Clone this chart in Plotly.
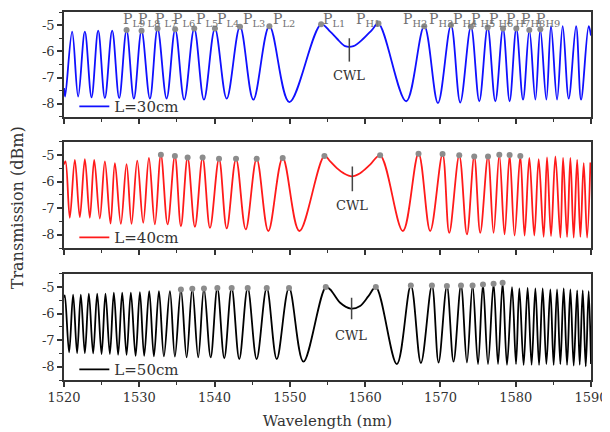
import plotly.graph_objects as go

# ---------------- data (extrema) ----------------
wl_30 = [1520.00, 1520.15, 1521.08, 1521.88, 1522.77, 1523.66, 1524.54, 1525.43, 1526.40, 1527.33,
         1528.31, 1529.28, 1530.30, 1531.41, 1532.43, 1533.63, 1534.77, 1535.97, 1537.30, 1538.59,
         1540.05, 1541.61, 1543.38, 1545.15, 1547.28, 1549.93, 1554.15, 1555.36, 1556.24, 1557.34,
         1558.45, 1559.78, 1560.89, 1561.77, 1565.45, 1567.85, 1569.67, 1571.40, 1572.63, 1574.05,
         1575.16, 1576.27, 1577.29, 1578.31, 1579.19, 1580.08, 1580.97, 1581.81, 1582.61, 1583.27,
         1584.07, 1584.69, 1585.49, 1586.24, 1587.04, 1588.02, 1588.68, 1589.69, 1590.00]
tr_30 = [-7.40, -7.72, -5.25, -7.72, -5.25, -7.75, -5.21, -7.78, -5.21, -7.78,
         -5.19, -7.80, -5.21, -7.80, -5.13, -7.80, -5.16, -7.84, -5.13, -7.84,
         -5.13, -7.80, -5.06, -7.84, -5.04, -7.93, -4.97, -5.25, -5.51, -5.80,
         -5.80, -5.51, -5.19, -4.94, -7.90, -5.04, -7.97, -5.00, -7.95, -5.06,
         -7.90, -5.09, -7.90, -5.13, -7.90, -5.13, -7.84, -5.19, -7.84, -5.16,
         -7.84, -5.04, -7.84, -5.04, -7.80, -5.04, -7.84, -5.04, -5.40]

wl_40 = [1520.00, 1520.20, 1520.77, 1521.44, 1522.10, 1522.77, 1523.43, 1524.01, 1524.76, 1525.43,
         1526.18, 1526.76, 1527.55, 1528.31, 1528.97, 1529.73, 1530.52, 1531.28, 1532.07, 1532.87,
         1533.76, 1534.73, 1535.53, 1536.42, 1537.39, 1538.41, 1539.39, 1540.59, 1541.61, 1542.85,
         1544.14, 1545.59, 1547.14, 1549.05, 1551.26, 1554.59, 1555.36, 1556.24, 1557.13, 1558.23,
         1559.33, 1560.66, 1561.99, 1565.01, 1567.09, 1568.64, 1570.28, 1571.17, 1572.50, 1573.52,
         1574.49, 1575.29, 1576.32, 1577.06, 1577.82, 1578.52, 1579.19, 1579.85, 1580.61, 1581.18,
         1581.81, 1582.47, 1583.05, 1583.71, 1584.16, 1584.69, 1585.27, 1585.93, 1586.29, 1586.82,
         1587.26, 1587.70, 1588.16, 1588.59, 1589.03, 1589.48, 1589.92]
tr_40 = [-5.35, -5.24, -7.36, -5.18, -7.34, -5.15, -7.36, -5.18, -7.39, -5.24,
         -7.58, -5.30, -7.59, -5.34, -7.59, -5.21, -7.55, -5.11, -7.61, -4.99,
         -7.61, -5.03, -7.68, -5.09, -7.70, -5.09, -7.74, -5.14, -7.76, -5.14,
         -7.80, -5.14, -7.86, -5.11, -7.86, -5.03, -5.24, -5.49, -5.68, -5.80,
         -5.68, -5.36, -5.01, -7.86, -4.95, -7.86, -4.96, -7.93, -5.01, -7.99,
         -5.05, -7.93, -5.05, -7.93, -4.99, -7.99, -5.00, -8.03, -5.03, -8.03,
         -5.11, -8.03, -5.15, -8.08, -5.09, -8.05, -5.05, -8.11, -5.11, -8.08,
         -5.11, -8.11, -5.18, -8.08, -5.30, -8.11, -5.28]

wl_50 = [1520.00, 1520.11, 1520.68, 1521.21, 1521.74, 1522.23, 1522.77, 1523.30, 1523.87, 1524.41,
         1524.99, 1525.51, 1526.09, 1526.62, 1527.19, 1527.73, 1528.31, 1528.88, 1529.51, 1530.08,
         1530.65, 1531.32, 1531.94, 1532.61, 1533.27, 1534.07, 1534.73, 1535.53, 1536.29, 1537.04,
         1537.83, 1538.59, 1539.48, 1540.37, 1541.29, 1542.27, 1543.28, 1544.40, 1545.59, 1546.93,
         1548.26, 1549.89, 1551.80, 1554.77, 1555.36, 1556.68, 1558.10, 1559.33, 1560.44, 1561.42,
         1564.21, 1566.07, 1567.41, 1568.87, 1569.75, 1570.86, 1571.74, 1572.73, 1573.52, 1574.27,
         1574.99, 1575.65, 1576.32, 1577.06, 1577.65, 1578.26, 1578.84, 1579.51, 1580.04, 1580.48,
         1581.05, 1581.58, 1582.11, 1582.61, 1583.10, 1583.58, 1584.07, 1584.60, 1585.04, 1585.49,
         1585.93, 1586.37, 1586.82, 1587.26, 1587.70, 1588.16, 1588.50, 1588.90, 1589.30, 1589.69,
         1590.00]
tr_50 = [-5.40, -5.31, -7.46, -5.28, -7.49, -5.28, -7.49, -5.25, -7.50, -5.25,
         -7.52, -5.25, -7.52, -5.21, -7.55, -5.21, -7.55, -5.21, -7.59, -5.19,
         -7.59, -5.15, -7.61, -5.15, -7.61, -5.15, -7.62, -5.09, -7.65, -5.06,
         -7.65, -5.05, -7.65, -5.03, -7.68, -5.03, -7.71, -5.03, -7.71, -5.03,
         -7.71, -5.03, -7.81, -5.00, -5.09, -5.59, -5.81, -5.71, -5.34, -5.00,
         -7.90, -4.94, -7.86, -4.94, -7.84, -4.96, -7.81, -4.94, -7.84, -4.94,
         -7.90, -4.90, -7.90, -4.87, -7.90, -4.84, -7.93, -5.00, -7.90, -5.05,
         -7.93, -5.03, -7.93, -5.05, -7.93, -5.05, -7.90, -5.09, -7.93, -5.09,
         -7.90, -5.05, -7.93, -5.09, -7.96, -5.12, -7.93, -5.12, -7.99, -5.15,
         -7.90]

# labelled / marked peaks (wavelengths)
marked_30 = [1528.31, 1530.30, 1532.43, 1534.77, 1537.30, 1540.05, 1543.38, 1547.28, 1554.15,
             1561.77, 1567.85, 1571.40, 1574.05, 1576.27, 1578.31, 1580.08, 1581.81, 1583.27]
marked_40 = [1532.87, 1534.73, 1536.42, 1538.41, 1540.59, 1542.85, 1545.59, 1549.05, 1554.59,
             1561.99, 1567.09, 1570.28, 1572.50, 1574.49, 1576.32, 1577.82, 1579.19, 1580.61]
marked_50 = [1535.53, 1537.04, 1538.59, 1540.37, 1542.27, 1544.40, 1546.93, 1549.89, 1554.77,
             1561.42, 1566.07, 1568.87, 1570.86, 1572.73, 1574.27, 1575.65, 1577.06, 1578.26]
peak_labels = ["L9", "L8", "L7", "L6", "L5", "L4", "L3", "L2", "L1",
               "H1", "H2", "H3", "H4", "H5", "H6", "H7", "H8", "H9"]

series_names = ["L=30cm", "L=40cm", "L=50cm"]
cwl_wavelengths = [1557.9, 1558.3, 1558.2]

x_ticks = [1520, 1530, 1540, 1550, 1560, 1570, 1580, 1590]
y_ticks = [-5, -6, -7, -8]
y_tick_text = ["-5", "-6", "-7", "-8"]

# ---------------- styling ----------------
FONT = "DejaVu Serif"
AX = "#333333"
colors = ["#1010ff", "#ff1a1a", "#000000"]
dot_color = "#8c8c8c"
label_color = "#707070"
# horizontal offsets (px) of the "P" labels from their peaks
label_dx = [-6, -6, -5, -4, 0, 0, 1, 2, 0,
            -24, -23, -24, -20, -19, -16, -12, -10, -6]

domains = [[0.7147, 1.0], [0.3587, 0.6472], [0.0, 0.2885]]
yr = [-8.5, -4.5]

fig = go.Figure()
data = [(wl_30, tr_30, marked_30), (wl_40, tr_40, marked_40), (wl_50, tr_50, marked_50)]
for i, (wl, tr, mk) in enumerate(data):
    xa = "x" if i == 0 else f"x{i+1}"
    ya = "y" if i == 0 else f"y{i+1}"
    lg = "legend" if i == 0 else f"legend{i+1}"
    fig.add_trace(go.Scatter(x=wl, y=tr, mode="lines", name=series_names[i],
                             line=dict(color=colors[i], width=1.8, shape="spline", smoothing=1.0),
                             xaxis=xa, yaxis=ya, legend=lg, showlegend=True))
    lookup = dict(zip(wl, tr))
    fig.add_trace(go.Scatter(x=mk, y=[lookup[w] for w in mk], mode="markers",
                             marker=dict(color=dot_color, size=6),
                             xaxis=xa, yaxis=ya, showlegend=False))

axis_common = dict(range=[1520, 1590], showline=True, linecolor=AX, linewidth=1.5, mirror=True,
                   showgrid=False, zeroline=False, ticks="outside", ticklen=5, tickwidth=1.5,
                   tickcolor=AX, tickvals=x_ticks, automargin=False,
                   minor=dict(dtick=5, tick0=1520, ticks="outside", ticklen=3, tickwidth=1.2,
                              tickcolor=AX, showgrid=False),
                   tickfont=dict(family=FONT, size=13, color=AX))
yaxis_common = dict(range=yr, showline=True, linecolor=AX, linewidth=1.5, mirror=True,
                    showgrid=False, zeroline=False, ticks="outside", ticklen=5, tickwidth=1.5,
                    tickcolor=AX, tickvals=y_ticks, ticktext=y_tick_text, automargin=False,
                    minor=dict(tickvals=[-4.5, -5.5, -6.5, -7.5, -8.5], ticks="outside", ticklen=3,
                               tickwidth=1.2, tickcolor=AX, showgrid=False),
                    tickfont=dict(family=FONT, size=13, color=AX))

# the page body adds an 8px offset, so the figure is drawn 8px smaller
layout = dict(width=602, height=424, margin=dict(l=56, r=19, t=4, b=52),
              paper_bgcolor="white", plot_bgcolor="white",
              font=dict(family=FONT, color=AX))
for i in range(3):
    sx = "" if i == 0 else str(i + 1)
    xa = dict(axis_common, domain=[0, 1], anchor="y" + sx, showticklabels=(i == 2))
    if i == 2:
        xa["title"] = dict(text="Wavelength (nm)", font=dict(family=FONT, size=15, color=AX), standoff=11)
    else:
        xa["matches"] = "x3"
    layout["xaxis" + sx] = xa
    layout["yaxis" + sx] = dict(yaxis_common, domain=domains[i], anchor="x" + sx)
    # legend for each panel, bottom-left
    ymid = domains[i][0] + (domains[i][1] - domains[i][0]) * 0.105 - 0.002
    layout["legend" + ("" if i == 0 else str(i + 1))] = dict(
        x=0.0196, y=ymid, xanchor="left", yanchor="middle", bgcolor="rgba(0,0,0,0)",
        borderwidth=0, font=dict(family=FONT, size=15, color=AX), itemwidth=30)
fig.update_layout(**layout)

annotations = []
shapes = []
# peak labels for the top panel
for k, (w, lab) in enumerate(zip(marked_30, peak_labels)):
    annotations.append(dict(x=w, y=1.0, xref="x", yref="y domain", xanchor="left", yanchor="top",
                            xshift=label_dx[k], yshift=3, showarrow=False,
                            text=f"P<sub>{lab}</sub>",
                            font=dict(family=FONT, size=14, color=label_color)))
# CWL markers
cwl_line = [(-5.50, -6.39), (-5.43, -6.36), (-5.40, -6.21)]
cwl_text_y = [-6.92, -6.88, -6.82]
for i in range(3):
    sx = "" if i == 0 else str(i + 1)
    shapes.append(dict(type="line", xref="x" + sx, yref="y" + sx, x0=cwl_wavelengths[i],
                       x1=cwl_wavelengths[i], y0=cwl_line[i][0], y1=cwl_line[i][1],
                       line=dict(color="#444444", width=1.5)))
    annotations.append(dict(x=cwl_wavelengths[i] - 0.1, y=cwl_text_y[i], xref="x" + sx, yref="y" + sx,
                            text="CWL", showarrow=False,
                            font=dict(family=FONT, size=13, color=AX)))
# y-axis title
annotations.append(dict(x=-0.089, y=0.467, xref="paper", yref="paper", text="Transmission (dBm)",
                        textangle=-90, showarrow=False, xanchor="center", yanchor="middle",
                        font=dict(family=FONT, size=16, color=AX)))
fig.update_layout(annotations=annotations, shapes=shapes)

fig.write_html("out.html")
